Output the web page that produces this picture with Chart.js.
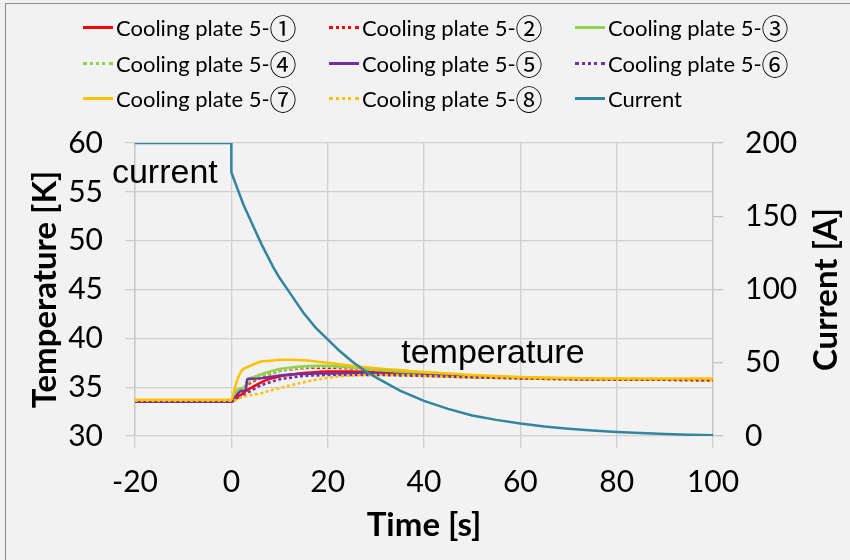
<!DOCTYPE html>
<html>
<head>
<meta charset="utf-8">
<script src="https://cdn.jsdelivr.net/npm/chart.js@4"></script>
<style>
  html, body { margin: 0; padding: 0; background: #f2f2f2; }
  #wrap { position: relative; width: 850px; height: 560px; overflow: hidden; }
  #frame { position: absolute; left: 5px; top: 3px; width: 900px; height: 600px; border: 1px solid #8c8c8c; pointer-events: none; }
  #legend { position: absolute; left: 83px; top: 10px; display: grid; grid-template-columns: 246px 246px 246px; grid-auto-rows: 35.5px; font-family: Lato, "Noto Sans CJK JP", sans-serif; font-size: 22px; color: #000; }
  .item { display: flex; align-items: center; white-space: nowrap; }
  .sample { width: 30px; height: 0; margin-right: 3px; }
  .circ { font-family: "Noto Sans CJK JP", "DejaVu Sans", sans-serif; font-size: 27px; line-height: 1; }
</style>
</head>
<body>
<div id="wrap">
  <canvas id="grafico" width="850" height="560"></canvas>
  <div id="legend"></div>
  <div id="frame"></div>
</div>
<script>
// time axis for the temperature sensors [s]
const timeT = [-20, -10, 0, 1, 2, 3, 3.3, 4, 6, 8, 10, 12, 15, 18, 20, 25, 30, 35, 40, 50, 60, 70, 80, 90, 100];

// cooling plate temperatures [K]
const plate1 = [33.5, 33.5, 33.5, 33.8, 34.2, 34.6, 34.7, 34.9, 35.45, 35.85, 36.1, 36.25, 36.45, 36.55, 36.6, 36.6, 36.5, 36.4, 36.3, 36.1, 35.95, 35.85, 35.8, 35.75, 35.75];
const plate2 = [33.5, 33.5, 33.5, 34.0, 34.6, 35.1, 35.2, 35.45, 35.95, 36.35, 36.65, 36.8, 36.95, 37.0, 37.0, 36.9, 36.7, 36.5, 36.35, 36.1, 35.95, 35.85, 35.8, 35.75, 35.7];
const plate3 = [33.6, 33.6, 33.6, 34.6, 34.9, 35.0, 35.85, 35.95, 36.3, 36.6, 36.85, 37.0, 37.15, 37.2, 37.2, 37.0, 36.8, 36.6, 36.4, 36.15, 36.0, 35.9, 35.85, 35.8, 35.8];
const plate4 = [33.6, 33.6, 33.6, 34.3, 34.8, 35.2, 35.35, 35.6, 36.05, 36.4, 36.65, 36.85, 37.0, 37.1, 37.1, 36.95, 36.75, 36.55, 36.4, 36.15, 36.0, 35.9, 35.85, 35.8, 35.8];
const plate5 = [33.5, 33.5, 33.5, 34.1, 34.6, 34.7, 35.8, 35.85, 35.9, 36.05, 36.2, 36.3, 36.35, 36.4, 36.4, 36.45, 36.4, 36.3, 36.25, 36.05, 35.95, 35.85, 35.8, 35.75, 35.75];
const plate6 = [33.5, 33.5, 33.5, 33.8, 34.0, 34.3, 34.4, 34.6, 35.15, 35.5, 35.8, 35.95, 36.15, 36.2, 36.25, 36.25, 36.25, 36.2, 36.15, 36.0, 35.9, 35.8, 35.75, 35.75, 35.7];
const plate7 = [33.7, 33.7, 33.7, 35.4, 36.6, 37.0, 37.05, 37.2, 37.6, 37.7, 37.8, 37.8, 37.75, 37.6, 37.5, 37.2, 36.95, 36.75, 36.55, 36.25, 36.05, 35.95, 35.9, 35.9, 35.9];
const plate8 = [33.6, 33.6, 33.6, 33.7, 33.95, 34.1, 34.15, 34.2, 34.35, 34.65, 34.9, 35.15, 35.5, 35.8, 35.95, 36.2, 36.25, 36.25, 36.15, 36.0, 35.9, 35.8, 35.75, 35.75, 35.7];

// coil current [A]
const timeI = [-20, 0, 0, 1.25, 2.5, 3.75, 5, 6.25, 7.5, 8.75, 10, 12.5, 15, 17.5, 20, 22.5, 25, 27.5, 30, 35, 40, 45, 50, 55, 60, 65, 70, 75, 80, 85, 90, 95, 100];
const current = [200, 200, 180, 169, 158, 149, 140, 131, 123, 115, 108, 96, 84, 74, 66, 58, 51, 45, 40, 31, 24, 18.5, 14, 11, 8.5, 6.5, 5, 3.7, 2.7, 2, 1.4, 0.9, 0.5];

// tick labels
const timeTicks = [-20, 0, 20, 40, 60, 80, 100];
const tempTicks = [30, 35, 40, 45, 50, 55, 60];
const currentTicks = [0, 50, 100, 150, 200];

const circulos = ["①", "②", "③", "④", "⑤", "⑥", "⑦", "⑧"];
const plateNames = circulos.map(n => "Cooling plate 5-" + n);
const plates = [plate1, plate2, plate3, plate4, plate5, plate6, plate7, plate8];
const cores = ["#ff0000", "#ff0000", "#92d050", "#92d050", "#7030a0", "#7030a0", "#ffc000", "#ffc000"];

const notas = [
    { text: "current", x: -13.8, y: 55.9 },
    { text: "temperature", x: 54.3, y: 37.45 }
];

const pontos = (xs, ys) => xs.map((x, i) => ({ x: x, y: ys[i] }));

const datasets = plates.map((p, i) => ({
    label: plateNames[i],
    data: pontos(timeT, p),
    borderColor: cores[i],
    borderWidth: 2.5,
    borderDash: i % 2 ? [3, 2.5] : [],
    pointRadius: 0,
    cubicInterpolationMode: "monotone",
    yAxisID: "y",
    order: 8 - i
}));
datasets.push({
    label: "Current",
    data: pontos(timeI, current),
    borderColor: "#31859c",
    borderWidth: 2.5,
    pointRadius: 0,
    tension: 0,
    yAxisID: "y1",
    order: 0
});

const fonteTick = { family: "Lato", size: 30 };
const fonteTitulo = { family: "Lato", size: 33, weight: "bold" };

// texts on the plot and the right axis title
const extras = {
    id: "extras",
    afterDatasetsDraw(chart) {
        const { ctx, scales } = chart;
        ctx.save();
        ctx.fillStyle = "#000";
        ctx.font = '34px "Liberation Sans", Arial, sans-serif';
        ctx.textAlign = "center";
        ctx.textBaseline = "alphabetic";
        notas.forEach(n => {
            ctx.fillText(n.text, scales.x.getPixelForValue(n.x), scales.y.getPixelForValue(n.y));
        });
        const a = chart.chartArea;
        ctx.translate(826, (a.top + a.bottom) / 2);
        ctx.rotate(-Math.PI / 2);
        ctx.font = "bold 33px Lato";
        ctx.textBaseline = "middle";
        ctx.fillText("Current [A]", 0, 0);
        ctx.restore();
    }
};

const grafico = new Chart(document.getElementById("grafico"), {
    type: "line",
    data: { datasets: datasets },
    plugins: [extras],
    options: {
        responsive: false,
        animation: false,
        layout: { padding: { top: 143, left: 0, right: 0, bottom: 0 } },
        plugins: {
            legend: { display: false },
            tooltip: { enabled: false }
        },
        scales: {
            x: {
                type: "linear",
                min: -20,
                max: 100,
                afterBuildTicks: s => { s.ticks = timeTicks.map(v => ({ value: v })); },
                afterFit: s => { s.height = 124; },
                ticks: { color: "#000", font: fonteTick, padding: 16 },
                grid: { color: "#d0d0d0", lineWidth: 1.3, tickLength: 12 },
                border: { display: false },
                title: { display: true, text: "Time [s]", color: "#000", font: fonteTitulo, padding: { top: 0, bottom: 15 } }
            },
            y: {
                position: "left",
                min: 30,
                max: 60,
                afterBuildTicks: s => { s.ticks = tempTicks.map(v => ({ value: v })); },
                afterFit: s => { s.width = 135; },
                ticks: { color: "#000", font: fonteTick, padding: 22 },
                grid: { color: "#d0d0d0", lineWidth: 1.3, tickLength: 10 },
                border: { display: true, color: "#c4c4c4", width: 1.3 },
                title: { display: true, text: "Temperature [K]", color: "#000", font: fonteTitulo, padding: { top: 26, bottom: 0 } }
            },
            y1: {
                position: "right",
                min: 0,
                max: 200,
                afterBuildTicks: s => { s.ticks = currentTicks.map(v => ({ value: v })); },
                afterFit: s => { s.width = 137; },
                ticks: { color: "#000", font: fonteTick, padding: 22 },
                grid: { drawOnChartArea: false, color: "#c4c4c4", lineWidth: 1.3, tickLength: 10 },
                border: { display: true, color: "#c4c4c4", width: 1.3 }
            }
        }
    }
});

// legend in three columns, built from the datasets
const legenda = document.getElementById("legend");
grafico.data.datasets.forEach(ds => {
    const item = document.createElement("div");
    item.className = "item";
    const amostra = document.createElement("span");
    amostra.className = "sample";
    const estilo = ds.borderDash && ds.borderDash.length ? "dotted" : "solid";
    amostra.style.borderTop = "3px " + estilo + " " + ds.borderColor;
    item.appendChild(amostra);
    const ultimo = ds.label.slice(-1);
    const txt = document.createElement("span");
    if (circulos.includes(ultimo)) {
        txt.textContent = ds.label.slice(0, -1);
        const c = document.createElement("span");
        c.className = "circ";
        c.textContent = ultimo;
        item.appendChild(txt);
        item.appendChild(c);
    } else {
        txt.textContent = ds.label;
        item.appendChild(txt);
    }
    legenda.appendChild(item);
});
</script>
</body>
</html>
